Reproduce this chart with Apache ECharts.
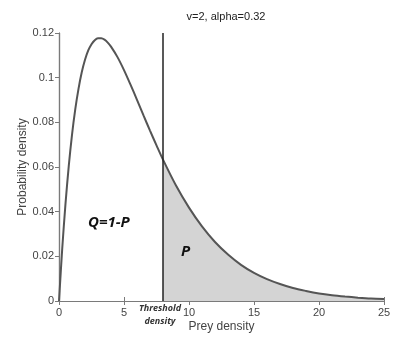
<!DOCTYPE html>
<html>
<head>
<meta charset="utf-8">
<script src="https://cdn.jsdelivr.net/npm/echarts@6/dist/echarts.min.js"></script>
<style>
  html, body { margin: 0; padding: 0; background: #fff; }
  #chart { width: 411px; height: 352px; }
</style>
</head>
<body>
<div id="chart"></div>
<script>
// prey density (x) and probability density (y)
var preyDensity = [0, 0.25, 0.5, 0.75, 1, 1.25, 1.5, 1.75, 2, 2.25, 2.5, 2.75, 3, 3.25, 3.5, 3.75, 4, 4.5, 5, 5.5, 6, 6.5, 7, 7.5, 8, 9, 10, 11, 12, 13, 14, 15, 16, 17, 18, 19, 20, 21, 22, 23, 24, 25];
var probDensity = [0, 0.0236, 0.0436, 0.0604, 0.0744, 0.0858, 0.0950, 0.1024, 0.1080, 0.1122, 0.1150, 0.1168, 0.1176, 0.1176, 0.1170, 0.1157, 0.1139, 0.1092, 0.1034, 0.0969, 0.0901, 0.0831, 0.0763, 0.0697, 0.0633, 0.0517, 0.0418, 0.0334, 0.0264, 0.0208, 0.0162, 0.0126, 0.0098, 0.0076, 0.0058, 0.0045, 0.0034, 0.0026, 0.0020, 0.0015, 0.0011, 0.0009];
var threshold = 8;

var curve = preyDensity.map(function (x, i) { return [x, probDensity[i]]; });
var tail = curve.filter(function (p) { return p[0] >= threshold; });

var axisGray = '#7a7a7a';
var labelGray = '#444';

var chart = echarts.init(document.getElementById('chart'));
chart.setOption({
  backgroundColor: '#fff',
  animation: false,
  title: {
    text: 'v=2, alpha=0.32',
    left: 221, top: 6, textAlign: 'center',
    textStyle: { fontFamily: 'Liberation Sans', fontSize: 11, fontWeight: 'normal', color: '#222' }
  },
  grid: { left: 59, right: 27, top: 33, bottom: 51 },
  xAxis: [{
    type: 'value', min: 0, max: 25, interval: 5,
    name: 'Prey density', nameLocation: 'middle', nameGap: 20, nameMoveOverlap: false,
    nameTextStyle: { fontFamily: 'Liberation Sans', fontSize: 12, color: labelGray },
    axisLine: { lineStyle: { color: axisGray, width: 1.2 } },
    axisTick: { show: true, inside: true, length: 4, lineStyle: { color: axisGray } },
    axisLabel: { fontFamily: 'Liberation Sans', fontSize: 11, color: labelGray, margin: 6 },
    splitLine: { show: false }
  }, {
    type: 'value', min: 0, max: 25, interval: 5, position: 'top',
    axisLine: { lineStyle: { color: axisGray, width: 1.2 } },
    axisTick: { show: true, inside: true, length: 4, lineStyle: { color: axisGray } },
    axisLabel: { show: false }, splitLine: { show: false }
  }],
  yAxis: [{
    type: 'value', min: 0, max: 0.12, interval: 0.02, position: 'left',
    name: 'Probability density', nameLocation: 'middle', nameGap: 30, nameMoveOverlap: false,
    nameTextStyle: { fontFamily: 'Liberation Sans', fontSize: 12, color: labelGray },
    axisLine: { show: true, lineStyle: { color: axisGray, width: 1.2 } },
    axisTick: { show: true, length: 3, lineStyle: { color: axisGray } },
    axisLabel: {
      fontFamily: 'Liberation Sans', fontSize: 11, color: labelGray, margin: 5,
      formatter: function (v) { return String(+v.toFixed(2)); }
    },
    splitLine: { show: false }
  }, {
    type: 'value', min: 0, max: 0.12, interval: 0.02, position: 'right',
    axisLine: { show: true, lineStyle: { color: axisGray, width: 1.2 } },
    axisTick: { show: true, inside: true, length: 4, lineStyle: { color: axisGray } },
    axisLabel: { show: false }, splitLine: { show: false }
  }],
  series: [{
    type: 'line', data: tail, smooth: 0.3, symbol: 'none',
    lineStyle: { width: 0 },
    areaStyle: { color: '#d4d4d4', opacity: 1 },
    z: 1
  }, {
    type: 'line', data: curve, smooth: 0.3, symbol: 'none',
    lineStyle: { color: '#555', width: 2 },
    markLine: {
      silent: true, symbol: 'none', label: { show: false },
      lineStyle: { color: '#222', width: 1.5, type: 'solid' },
      data: [{ xAxis: threshold }]
    },
    z: 3
  }],
  graphic: [{
    type: 'text', x: 88, y: 215, z: 100,
    style: { text: 'Q=1-P', fontFamily: 'Open Sans', fontSize: 15, fontWeight: 'bold', fontStyle: 'italic', fill: '#111' }
  }, {
    type: 'text', x: 181, y: 244, z: 100,
    style: { text: 'P', fontFamily: 'Open Sans', fontSize: 15, fontWeight: 'bold', fontStyle: 'italic', fill: '#111' }
  }, {
    type: 'text', x: 160, y: 302, z: 100,
    style: {
      text: 'Threshold\ndensity', align: 'center', lineHeight: 13,
      fontFamily: 'Open Sans', fontSize: 9, fontWeight: 'bold', fontStyle: 'italic', fill: '#333'
    }
  }]
});
</script>
</body>
</html>
